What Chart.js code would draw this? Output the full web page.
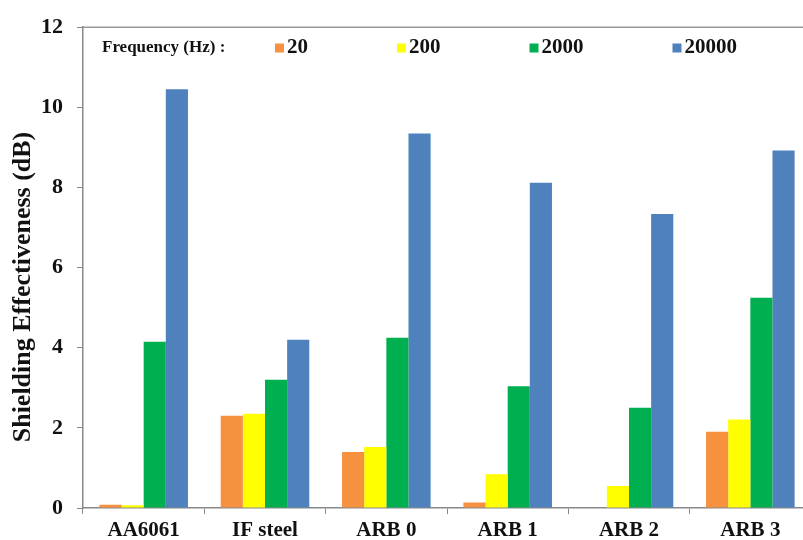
<!DOCTYPE html>
<html>
<head>
<meta charset="utf-8">
<script src="https://cdn.jsdelivr.net/npm/chart.js@4"></script>
<style>
    html, body { margin: 0; padding: 0; background: #fff; }
    #wrap { width: 803px; height: 540px; overflow: hidden; }
</style>
</head>
<body>
<div id="wrap"><canvas id="chart" width="815" height="540"></canvas></div>
<script>
const categories = ['AA6061', 'IF steel', 'ARB 0', 'ARB 1', 'ARB 2', 'ARB 3'];
const freqLabels = ['20', '200', '2000', '20000'];
const se20 = [0.08, 2.3, 1.4, 0.14, 0, 1.9];
const se200 = [0.07, 2.35, 1.52, 0.84, 0.55, 2.21];
const se2000 = [4.15, 3.2, 4.25, 3.04, 2.5, 5.25];
const se20000 = [10.45, 4.2, 9.35, 8.12, 7.34, 8.92];
const yTicks = [0, 2, 4, 6, 8, 10, 12];
const legendTitle = 'Frequency (Hz) :';
const yTitle = 'Shielding Effectiveness (dB)';

const colors = ['#F5913F', '#FFFF00', '#00B050', '#4F81BD'];
const serif = '"Liberation Serif", "DejaVu Serif", serif';

// top border, inline legend and axis title
const decor = {
    id: 'decor',
    afterDraw(chart) {
        const { ctx, chartArea: a } = chart;
        ctx.save();
        ctx.strokeStyle = '#999';
        ctx.lineWidth = 1.5;
        ctx.beginPath();
        ctx.moveTo(a.left, a.top);
        ctx.lineTo(a.right, a.top);
        ctx.stroke();

        ctx.fillStyle = '#111';
        ctx.textBaseline = 'middle';
        ctx.font = 'bold 17px ' + serif;
        ctx.fillText(legendTitle, 102, 48);

        ctx.font = 'bold 21px ' + serif;
        let x = 275;
        chart.data.datasets.forEach(ds => {
            ctx.fillStyle = ds.backgroundColor;
            ctx.fillRect(x, 43.5, 9, 9);
            ctx.fillStyle = '#111';
            ctx.fillText(ds.label, x + 12, 48);
            x += ctx.measureText(ds.label).width + 101;
        });

        ctx.translate(23, 287);
        ctx.rotate(-Math.PI / 2);
        ctx.textAlign = 'center';
        ctx.font = 'bold 26px ' + serif;
        ctx.fillText(yTitle, 0, 0);
        ctx.restore();
    }
};

new Chart(document.getElementById('chart'), {
    type: 'bar',
    data: {
        labels: categories,
        datasets: [se20, se200, se2000, se20000].map((d, i) => ({
            label: freqLabels[i],
            data: d,
            backgroundColor: colors[i],
            borderWidth: 0,
            categoryPercentage: 0.73,
            barPercentage: 1.0
        }))
    },
    options: {
        responsive: false,
        maintainAspectRatio: false,
        animation: false,
        layout: { padding: { top: 23, right: 4, left: 0, bottom: 0 } },
        plugins: { legend: { display: false }, tooltip: { enabled: false } },
        scales: {
            x: {
                grid: { drawOnChartArea: false, drawTicks: true, tickLength: 6, color: '#888', offset: true },
                border: { color: '#888', width: 1.5 },
                ticks: { color: '#111', padding: 4, font: { family: serif, size: 21, weight: 'bold' } },
                afterFit(s) { s.height = 32; }
            },
            y: {
                min: 0,
                max: 12,
                afterBuildTicks(s) { s.ticks = yTicks.map(v => ({ value: v })); },
                grid: { drawOnChartArea: false, drawTicks: true, tickLength: 6, color: '#888' },
                border: { color: '#888', width: 1.5 },
                ticks: { color: '#111', padding: 14, font: { family: serif, size: 22, weight: 'bold' } },
                afterFit(s) { s.width = 83; }
            }
        }
    },
    plugins: [decor]
});
</script>
</body>
</html>
